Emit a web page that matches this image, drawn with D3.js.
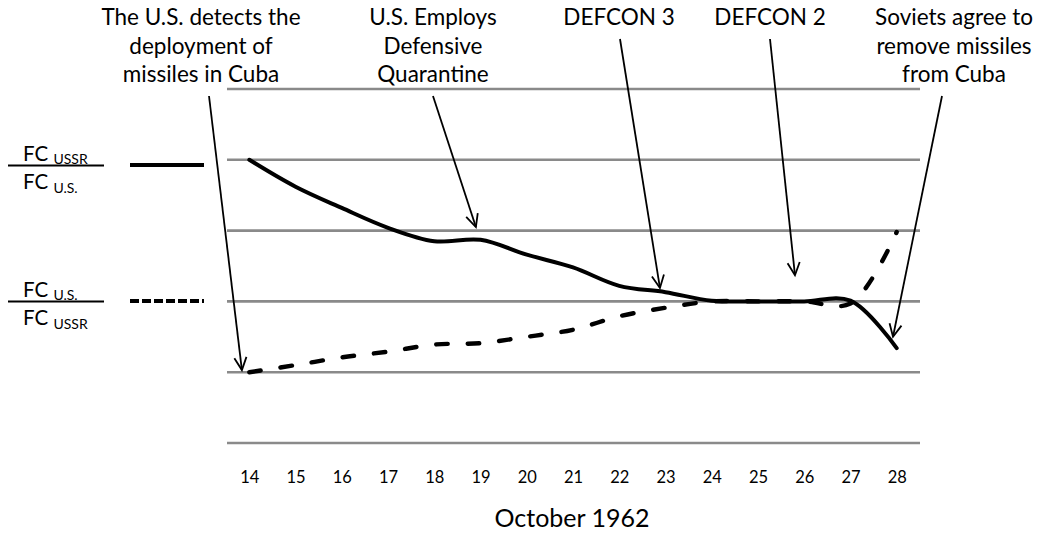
<!DOCTYPE html>
<html>
<head>
<meta charset="utf-8">
<script src="https://cdn.jsdelivr.net/npm/d3@7"></script>
<style>
  body { margin: 0; background: #fff; }
  svg { display: block; font-family: Lato, "Noto Sans", sans-serif; }
</style>
</head>
<body>
<div id="cont"></div>
<script>

// the data
var days = [14, 15, 16, 17, 18, 19, 20, 21, 22, 23, 24, 25, 26, 27, 28];
var ussrOverUs = [4.0, 3.62, 3.32, 3.04, 2.85, 2.87, 2.66, 2.48, 2.22, 2.13, 2.01, 2.0, 2.0, 2.01, 1.34];
var usOverUssr = [1.0, 1.10, 1.21, 1.29, 1.39, 1.41, 1.50, 1.60, 1.79, 1.91, 2.0, 2.0, 2.0, 1.97, 2.98];
var gridLevels = [0, 1, 2, 3, 4, 5];
var xTitle = "October 1962";

// annotations: text lines and the point (day, level) the arrow hits
var eventLabels = [
  ["The U.S. detects the", "deployment of", "missiles in Cuba"],
  ["U.S. Employs", "Defensive", "Quarantine"],
  ["DEFCON 3"],
  ["DEFCON 2"],
  ["Soviets agree to", "remove missiles", "from Cuba"]
];
var eventDays = [13.84, 18.9, 22.88, 25.8, 27.92];
var eventLevels = [1.03, 3.05, 2.19, 2.37, 1.5];

// set the dimensions of the graph
var width = 1040, height = 537;

var x = d3.scaleLinear().domain([14, 28]).range([249.3, 896.7]);
var y = d3.scaleLinear().domain([0, 5]).range([443, 89]);

var svg = d3.select("#cont").append("svg")
    .attr("width", width)
    .attr("height", height);

// grid lines
svg.append("g")
  .selectAll("line")
  .data(gridLevels)
  .enter().append("line")
    .attr("x1", 227)
    .attr("x2", 920)
    .attr("y1", function(d) { return y(d); })
    .attr("y2", function(d) { return y(d); })
    .style("stroke", "#8a8a8a")
    .style("stroke-width", 2.6);

// x axis, labels only
var xAxis = svg.append("g")
    .attr("transform", "translate(0,471)")
    .call(d3.axisBottom(x).tickValues(days).tickSize(0).tickPadding(0).tickFormat(d3.format("d")));
xAxis.select(".domain").remove();
xAxis.selectAll("text")
    .attr("dy", "0.71em")
    .style("font-family", "Lato, sans-serif")
    .style("font-size", "16.5px")
    .style("fill", "#000");

svg.append("text")
    .attr("x", 572)
    .attr("y", 527)
    .attr("text-anchor", "middle")
    .style("font-size", "25px")
    .text(xTitle);

// the two lines
var line = d3.line()
    .x(function(d) { return x(d[0]); })
    .y(function(d) { return y(d[1]); })
    .curve(d3.curveCatmullRom.alpha(0.5));

svg.append("path")
    .datum(days.map(function(d, i) { return [d, ussrOverUs[i]]; }))
    .attr("d", line)
    .style("fill", "none")
    .style("stroke", "#000")
    .style("stroke-width", 4)
    .style("stroke-linecap", "round");

svg.append("path")
    .datum(days.map(function(d, i) { return [d, usOverUssr[i]]; }))
    .attr("d", line)
    .style("fill", "none")
    .style("stroke", "#000")
    .style("stroke-width", 4.4)
    .style("stroke-linecap", "round")
    .style("stroke-dasharray", "11.5,20");

// legend on the left
function fraction(yBar, top, bottom, dashed) {
  var g = svg.append("g");
  g.append("line")
      .attr("x1", 8).attr("x2", 104)
      .attr("y1", yBar).attr("y2", yBar)
      .style("stroke", "#000").style("stroke-width", 1.8);
  var t1 = g.append("text").attr("x", 23).attr("y", yBar - 5).style("font-size", "20.5px");
  t1.append("tspan").text("FC ");
  t1.append("tspan").attr("dy", 3).style("font-size", "14px").text(top);
  var t2 = g.append("text").attr("x", 23).attr("y", yBar + 23).style("font-size", "20.5px");
  t2.append("tspan").text("FC ");
  t2.append("tspan").attr("dy", 4).style("font-size", "14px").text(bottom);
  g.append("line")
      .attr("x1", 130).attr("x2", 204)
      .attr("y1", yBar - 0.5).attr("y2", yBar - 0.5)
      .style("stroke", "#000").style("stroke-width", 4)
      .style("stroke-dasharray", dashed ? "9,3" : null);
}
fraction(165.5, "USSR", "U.S.", false);
fraction(301.5, "U.S.", "USSR", true);

// event labels with arrows
var labelX = [201, 433, 619, 770, 954];
var arrowDx = [8, 0, 1, 0, -12];
var lineGap = 28.5;

eventLabels.forEach(function(lines, i) {
  var t = svg.append("text")
      .attr("text-anchor", "middle")
      .style("font-size", "22.5px");
  lines.forEach(function(s, j) {
    t.append("tspan")
        .attr("x", labelX[i])
        .attr("y", 25 + j * lineGap)
        .text(s);
  });

  var x0 = labelX[i] + arrowDx[i],
      y0 = 25 + (lines.length - 1) * lineGap + 14,
      x1 = x(eventDays[i]),
      y1 = y(eventLevels[i]);
  svg.append("line")
      .attr("x1", x0).attr("y1", y0)
      .attr("x2", x1).attr("y2", y1)
      .style("stroke", "#000").style("stroke-width", 1.8);

  // open arrow head
  var ang = Math.atan2(y1 - y0, x1 - x0), len = 14, spread = 0.45;
  var head = [
    [x1 - len * Math.cos(ang - spread), y1 - len * Math.sin(ang - spread)],
    [x1, y1],
    [x1 - len * Math.cos(ang + spread), y1 - len * Math.sin(ang + spread)]
  ];
  svg.append("path")
      .attr("d", d3.line()(head))
      .style("fill", "none")
      .style("stroke", "#000")
      .style("stroke-width", 1.8);
});

</script>
</body>
</html>
